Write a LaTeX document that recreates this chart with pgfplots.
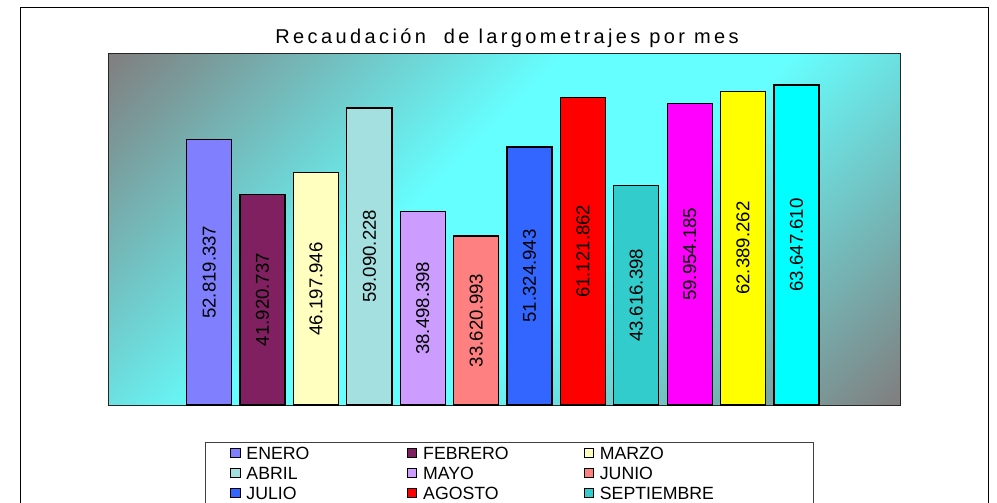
\documentclass[border=0pt]{standalone}
\usepackage{fontspec}
\setmainfont{Liberation Sans}
\newfontfamily\titlefont[LetterSpace=17]{Liberation Sans}
\usepackage{pgfplots}
\usepackage{pgfplotstable}
\pgfplotsset{compat=1.18}

% Excel-like palette
\definecolor{bggray}{RGB}{128,128,128}
\definecolor{bgcyan}{RGB}{102,255,255}
\definecolor{c0}{RGB}{128,128,255}
\definecolor{c1}{RGB}{128,32,96}
\definecolor{c2}{RGB}{255,255,192}
\definecolor{c3}{RGB}{164,224,224}
\definecolor{c4}{RGB}{204,156,255}
\definecolor{c5}{RGB}{255,128,128}
\definecolor{c6}{RGB}{51,102,255}
\definecolor{c7}{RGB}{255,0,0}
\definecolor{c8}{RGB}{51,204,204}
\definecolor{c9}{RGB}{255,0,255}
\definecolor{c10}{RGB}{255,255,0}
\definecolor{c11}{RGB}{0,255,255}

\pgfdeclarehorizontalshading{plotbg}{100bp}{color(0bp)=(bggray); color(15bp)=(bggray);
  color(43bp)=(bgcyan); color(57bp)=(bgcyan); color(85bp)=(bggray); color(100bp)=(bggray)}

% recaudacion en millones, etiqueta tal cual
\pgfplotstableread{
x v lab
0 52.819337 52.819.337
1 41.920737 41.920.737
2 46.197946 46.197.946
3 59.090228 59.090.228
4 38.498398 38.498.398
5 33.620993 33.620.993
6 51.324943 51.324.943
7 61.121862 61.121.862
8 43.616398 43.616.398
9 59.954185 59.954.185
10 62.389262 62.389.262
11 63.647610 63.647.610
}\recaud

\begin{document}
\begin{tikzpicture}
\useasboundingbox (0,0) rectangle (498.5pt,-251.5pt);
\clip (0,0) rectangle (498.5pt,-251.5pt);
\fill[white] (0,0) rectangle (498.5pt,-251.5pt);
\draw[black, line width=0.5pt] (10.35pt,-3.65pt) rectangle (494pt,-280pt);
\node[font=\titlefont\fontsize{10}{12}\selectfont, anchor=base, inner sep=0pt]
  at (253.5pt,-21.5pt) {Recaudación\ \ de largometrajes por mes};
% legend frame (runs past the bottom edge, as in the original)
\draw[black!75, line width=0.5pt] (102.5pt,-221pt) rectangle (406.5pt,-300pt);
\begin{axis}[
  at={(54pt,-202.5pt)}, anchor=south west,
  scale only axis, width=396pt, height=176pt,
  xmin=-1.895, xmax=12.939, ymin=0, ymax=70,
  xtick=\empty, ytick=\empty,
  axis line style={draw=black!85, line width=0.5pt},
  axis background/.style={shading=plotbg, shading angle=-45},
  ybar, bar shift=0pt, bar width=0.843,
  legend columns=3, legend cell align=left,
  legend style={
    at={(0.12247,-0.10511)}, anchor=north west,
    draw=none, fill=none,
    font=\fontsize{8.85}{10}\selectfont,
    inner xsep=12.5pt, inner ysep=0.5pt,
    column sep=2.9pt, row sep=0pt,
    nodes={inner sep=0pt, text height=8.12pt, text depth=1.78pt, text width=77.4pt, align=left},
  },
  legend image code/.code={\draw[#1, draw=black, line width=0.5pt] (0pt,-2.3pt) rectangle (4.65pt,2.35pt);},
]
\pgfplotsinvokeforeach{0,...,11}{
  \addplot[fill=c#1, draw=black, line width=0.65pt]
    table[x=x, y=v, restrict x to domain=#1:#1] {\recaud};
}
\addplot[forget plot, draw=none, fill=none, point meta=explicit symbolic, nodes near coords,
  every node near coord/.append style={rotate=90, anchor=center, inner sep=0pt,
    text=black, font=\fontsize{9.3}{11}\selectfont}]
  table[x=x, y expr=\thisrow{v}/2, meta=lab] {\recaud};
% only the first nine entries are visible in the original
\legend{ENERO, FEBRERO, MARZO, ABRIL, MAYO, JUNIO, JULIO, AGOSTO, SEPTIEMBRE}
\end{axis}
\end{tikzpicture}
\end{document}
